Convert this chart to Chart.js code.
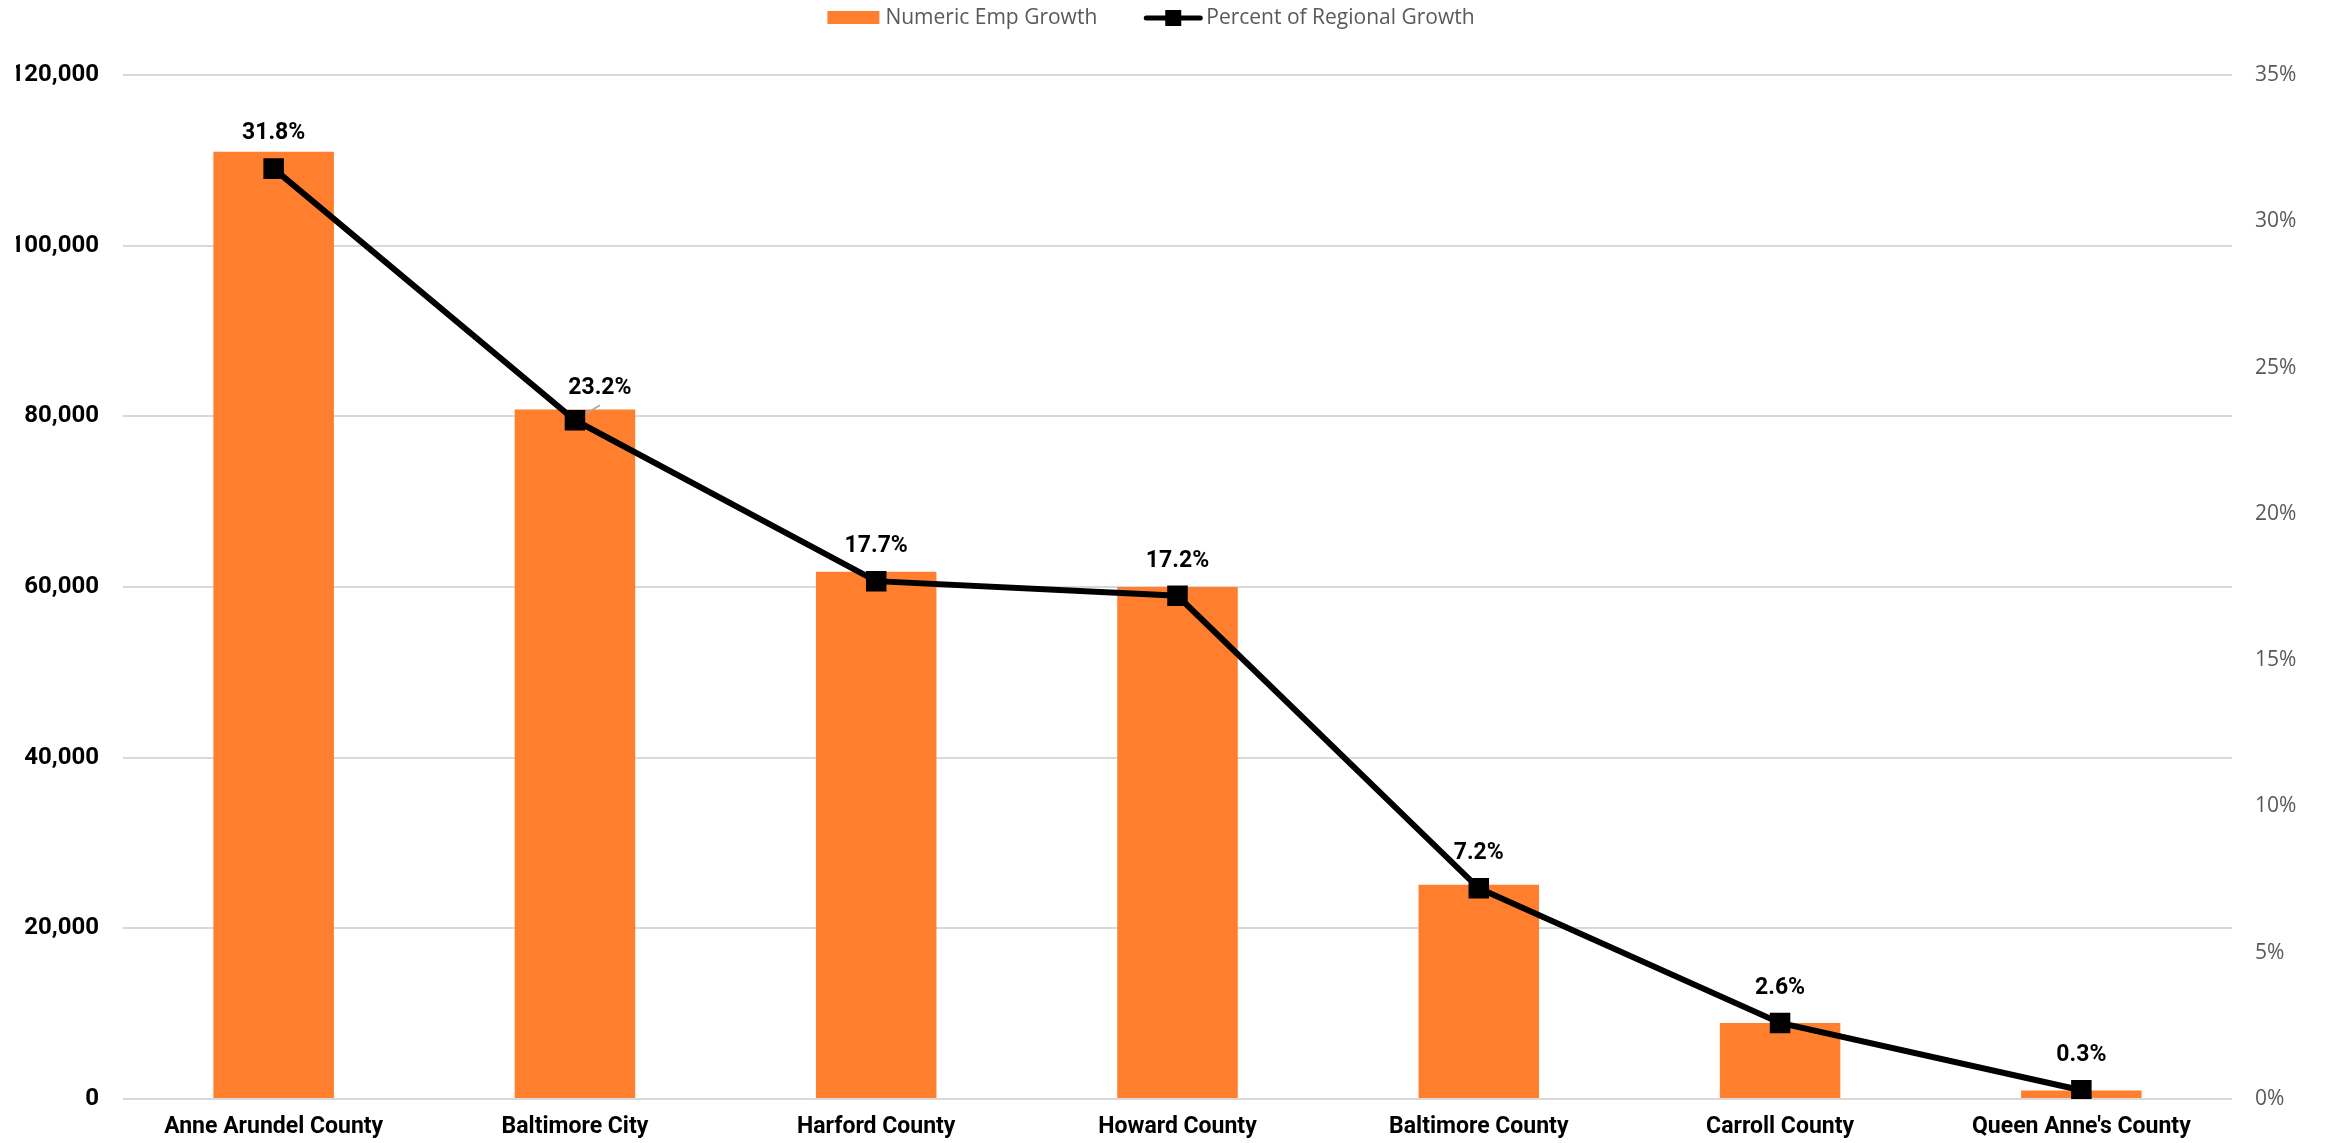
<!DOCTYPE html>
<html>
<head>
  <meta charset="UTF-8">
  <title>Employment Growth by Jurisdiction</title>
  <script src="https://cdn.jsdelivr.net/npm/chart.js"></script>
  <style>
    * { margin: 0; padding: 0; box-sizing: border-box; }
    html, body { width: 2328px; height: 1143px; background: #fff; overflow: hidden; }
    .wrap { position: relative; width: 2328px; height: 1143px; }
  </style>
</head>
<body>
  <div class="wrap">
    <canvas id="growthChart"></canvas>
  </div>

  <script>
    // --- Data ---
    const counties = [
      'Anne Arundel County',
      'Baltimore City',
      'Harford County',
      'Howard County',
      'Baltimore County',
      'Carroll County',
      "Queen Anne's County",
    ];
    const empGrowth = [111000, 80800, 61800, 60000, 25100, 8900, 1000];
    const pctOfRegion = [31.8, 23.2, 17.7, 17.2, 7.2, 2.6, 0.3];

    const legendLabels = ['Numeric Emp Growth', 'Percent of Regional Growth'];

    const ORANGE = '#FF7F2F';
    const GRID = '#D9D9D9';
    const GREY_TEXT = '#595959';

    // --- Labels above the line points ---
    // drawn right after the bars so the line sits on top, like the original
    const pointLabels = {
      id: 'pointLabels',
      afterDatasetDraw(chart, args) {
        if (args.index !== 1) return;
        const meta = chart.getDatasetMeta(0);
        const ctx = chart.ctx;
        ctx.save();
        ctx.font = 'bold 23px Roboto';
        ctx.fillStyle = '#000';
        ctx.textAlign = 'center';
        ctx.textBaseline = 'middle';
        meta.data.forEach((pt, i) => {
          let dx = 0, dy = -35;
          // Baltimore City label was nudged aside in the source, with a leader line
          if (i === 1) {
            dx = 25; dy = -32;
            ctx.save();
            ctx.strokeStyle = '#A6A6A6';
            ctx.lineWidth = 1.5;
            ctx.beginPath();
            ctx.moveTo(pt.x, pt.y);
            ctx.lineTo(pt.x + 25, pt.y - 15);
            ctx.stroke();
            ctx.restore();
          }
          ctx.fillText(pctOfRegion[i].toFixed(1) + '%', pt.x + dx, pt.y + dy);
        });
        ctx.restore();
      }
    };

    // --- Legend drawn by hand (bar swatch + line with square marker) ---
    const topLegend = {
      id: 'topLegend',
      afterDraw(chart) {
        const ctx = chart.ctx;
        ctx.save();
        ctx.font = '21px "Open Sans"';
        const w1 = ctx.measureText(legendLabels[0]).width;
        const w2 = ctx.measureText(legendLabels[1]).width;
        const total = 52 + 6 + w1 + 47 + 58 + 4 + w2;
        let x = chart.width / 2 - 13 - total / 2;
        const y = 18;

        ctx.fillStyle = ORANGE;
        ctx.fillRect(x, y - 7, 52, 13);
        x += 52 + 6;
        ctx.fillStyle = GREY_TEXT;
        ctx.textBaseline = 'middle';
        ctx.fillText(legendLabels[0], x, y);
        x += w1 + 47;

        ctx.strokeStyle = '#000';
        ctx.lineWidth = 5;
        ctx.lineCap = 'round';
        ctx.beginPath();
        ctx.moveTo(x + 2, y);
        ctx.lineTo(x + 56, y);
        ctx.stroke();
        ctx.fillStyle = '#000';
        ctx.fillRect(x + 29 - 8, y - 8, 16, 16);
        x += 58 + 4;
        ctx.fillStyle = GREY_TEXT;
        ctx.fillText(legendLabels[1], x, y);
        ctx.restore();
      }
    };

    new Chart(document.getElementById('growthChart'), {
      data: {
        labels: counties,
        datasets: [
          {
            type: 'line',
            label: legendLabels[1],
            data: pctOfRegion,
            yAxisID: 'y2',
            order: 0,
            borderColor: '#000',
            borderWidth: 6,
            tension: 0,
            pointStyle: 'rect',
            pointRadius: 14.5,
            pointHoverRadius: 14.5,
            pointBackgroundColor: '#000',
            pointBorderColor: '#000',
            pointBorderWidth: 0,
          },
          {
            type: 'bar',
            label: legendLabels[0],
            data: empGrowth,
            yAxisID: 'y',
            order: 1,
            backgroundColor: ORANGE,
            barPercentage: 0.4,
            categoryPercentage: 1,
          },
        ]
      },
      options: {
        responsive: true,
        maintainAspectRatio: false,
        animation: false,
        layout: { padding: { top: 75, left: 16, right: 0, bottom: 0 } },
        plugins: {
          legend: { display: false },
          tooltip: { enabled: false },
        },
        scales: {
          x: {
            grid: { display: false, drawTicks: false },
            border: { display: false },
            ticks: {
              color: '#000',
              font: { family: 'Roboto', weight: 'bold', size: 23 },
              padding: 14,
              maxRotation: 0,
            },
            afterFit: s => { s.height = 44; },
          },
          y: {
            position: 'left',
            min: 0,
            max: 120000,
            ticks: {
              stepSize: 20000,
              color: '#000',
              font: { family: 'Roboto', weight: 'bold', size: 24 },
              padding: 24,
              callback: v => v.toLocaleString('en-US'),
            },
            grid: { color: GRID, lineWidth: 2, drawTicks: false },
            border: { display: false },
            afterFit: s => { s.width = 107; },
          },
          y2: {
            position: 'right',
            min: 0,
            max: 35,
            ticks: {
              stepSize: 5,
              color: GREY_TEXT,
              font: { family: 'Open Sans', size: 21 },
              padding: 23,
              callback: v => v + '%',
            },
            grid: { display: false, drawTicks: false },
            border: { display: false },
            afterFit: s => { s.width = 96; },
          },
        }
      },
      plugins: [pointLabels, topLegend]
    });
  </script>
</body>
</html>
